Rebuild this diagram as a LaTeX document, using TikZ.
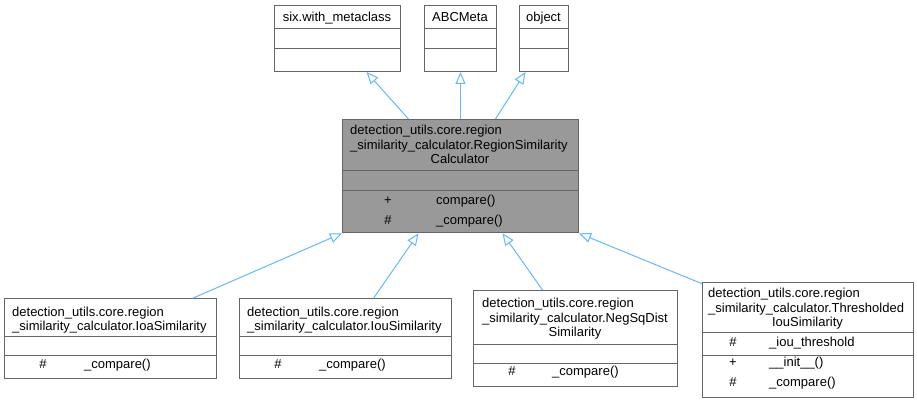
\documentclass[tikz,border=0pt]{standalone}
\usepackage{fontspec}
\setmainfont{Liberation Sans}
\usetikzlibrary{arrows.meta}
\definecolor{edgeblue}{HTML}{63B8FF}
\definecolor{boxline}{HTML}{666666}
\definecolor{mainfill}{HTML}{999999}
\tikzset{
  umlbox/.style={draw=boxline, line width=1pt, fill=white, rectangle, inner sep=0pt, anchor=north west},
  mainbox/.style={umlbox, fill=mainfill},
  divider/.style={draw=boxline, line width=1pt},
  txt/.style={inner sep=0pt, anchor=base west, font=\fontsize{13}{15}\selectfont},
  ctxt/.style={inner sep=0pt, anchor=base, font=\fontsize{13}{15}\selectfont},
  inh/.style={draw=edgeblue, line width=1pt, -{Triangle[open, length=12pt, width=10pt, fill=white]}},
}
\begin{document}
\begin{tikzpicture}[x=1pt, y=-1pt]
\useasboundingbox (0,0) rectangle (917,401);

% --- top boxes
\node[umlbox, minimum width=126pt, minimum height=66pt] (six) at (274,5) {};
\draw[divider] (274,29) -- (400,29);
\draw[divider] (274,49) -- (400,49);
\node[ctxt] (sixt) at (337,21.7) {six.with\_metaclass};

\node[umlbox, minimum width=72pt, minimum height=66pt] (abc) at (424,5) {};
\draw[divider] (424,29) -- (496,29);
\draw[divider] (424,49) -- (496,49);
\node[ctxt] (abct) at (460,21.7) {ABCMeta};

\node[umlbox, minimum width=49pt, minimum height=66pt] (obj) at (519,5) {};
\draw[divider] (519,29) -- (568,29);
\draw[divider] (519,49) -- (568,49);
\node[ctxt] (objt) at (543.5,21.7) {object};

% --- main box
\node[mainbox, minimum width=236pt, minimum height=113.3pt] (main) at (342,119) {};
\draw[divider] (342,170) -- (578,170);
\draw[divider] (342,190.3) -- (578,190.3);
\node[txt] (m1) at (350,135) {detection\_utils.core.region};
\node[txt] (m2) at (350,149.3) {\_similarity\_calculator.RegionSimilarity};
\node[ctxt] (m3) at (460,163.3) {Calculator};
\node[ctxt] (m4a) at (388,204.3) {+};
\node[txt] (m4b) at (436,204.3) {compare()};
\node[ctxt] (m5a) at (388,224.3) {\#};
\node[txt] (m5b) at (436,224.3) {\_compare()};

% --- IoaSimilarity
\node[umlbox, minimum width=212pt, minimum height=79.4pt] (ioa) at (4,298.3) {};
\draw[divider] (4,336) -- (216,336);
\draw[divider] (4,355.7) -- (216,355.7);
\node[txt] (a1) at (12,316.7) {detection\_utils.core.region};
\node[txt] (a2) at (12,330.7) {\_similarity\_calculator.IoaSimilarity};
\node[ctxt] (a3a) at (43,368.3) {\#};
\node[txt] (a3b) at (84,368.3) {\_compare()};

% --- IouSimilarity
\node[umlbox, minimum width=212pt, minimum height=79.4pt] (iou) at (239,298.3) {};
\draw[divider] (239,336) -- (451,336);
\draw[divider] (239,355.7) -- (451,355.7);
\node[txt] (u1) at (247,316.7) {detection\_utils.core.region};
\node[txt] (u2) at (247,330.7) {\_similarity\_calculator.IouSimilarity};
\node[ctxt] (u3a) at (278,368.3) {\#};
\node[txt] (u3b) at (319,368.3) {\_compare()};

% --- NegSqDistSimilarity
\node[umlbox, minimum width=204pt, minimum height=96pt] (neg) at (473,290) {};
\draw[divider] (473,344.3) -- (677,344.3);
\draw[divider] (473,363.3) -- (677,363.3);
\node[txt] (n1) at (482,307.7) {detection\_utils.core.region};
\node[txt] (n2) at (482,322.3) {\_similarity\_calculator.NegSqDist};
\node[ctxt] (n3) at (575,336.7) {Similarity};
\node[ctxt] (n4a) at (512,375.7) {\#};
\node[txt] (n4b) at (552,375.7) {\_compare()};

% --- ThresholdedIouSimilarity
\node[umlbox, minimum width=211pt, minimum height=115.6pt] (thr) at (702,281.7) {};
\draw[divider] (702,332.7) -- (913,332.7);
\draw[divider] (702,355) -- (913,355);
\node[txt] (t1) at (708,297.7) {detection\_utils.core.region};
\node[txt] (t2) at (708,312.3) {\_similarity\_calculator.Thresholded};
\node[ctxt] (t3) at (807.5,326.7) {IouSimilarity};
\node[ctxt] (t4a) at (733,346) {\#};
\node[txt] (t4b) at (769,346) {\_iou\_threshold};
\node[ctxt] (t5a) at (733,366) {+};
\node[txt] (t5b) at (769,366) {\_\_init\_\_()};
\node[ctxt] (t6a) at (733,386) {\#};
\node[txt] (t6b) at (769,386) {\_compare()};

% --- inheritance connectors
\draw[inh] ([xshift=-52pt]main.north) -- ([xshift=29pt]six.south);
\draw[inh] (main.north) -- (abc.south);
\draw[inh] ([xshift=35pt]main.north) -- ([xshift=-18.5pt]obj.south);

\draw[inh] ([xshift=82pt]ioa.north) -- (main.south west);
\draw[inh] ([xshift=28pt]iou.north) -- ([xshift=-42pt]main.south);
\draw[inh] ([xshift=-33pt]neg.north) -- ([xshift=42pt]main.south);
\draw[inh] ([yshift=-2pt]thr.north west) -- (main.south east);
\end{tikzpicture}
\end{document}
